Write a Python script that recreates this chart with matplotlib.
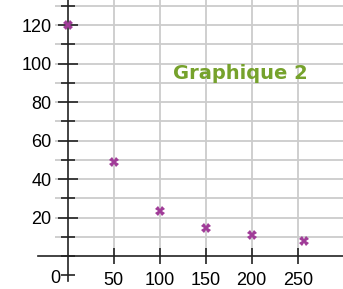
import matplotlib
matplotlib.use("Agg")
from matplotlib import pyplot as plt
from matplotlib.ticker import MultipleLocator

# values
x_vals = [0, 50, 100, 150, 200, 257]
y_vals = [120, 49, 23.5, 14.5, 11, 8]
x_ticks = [50, 100, 150, 200, 250]
y_ticks = [20, 40, 60, 80, 100, 120]
title = "Graphique 2"

purple = "#a03c98"
green = "#76a22c"
grid_col = "#cccccc"

plt.rcParams['font.family'] = ['Liberation Sans', 'DejaVu Sans']

fig = plt.figure(figsize=(3.43, 2.89), dpi=100)
ax = fig.add_axes([0, 0, 1, 1])
ax.set_xlim(-73.6, 299.2)
ax.set_ylim(-17.1, 133)
ax.patch.set_alpha(0)

# grid
for y in range(10, 140, 10):
    ax.hlines(y, -13.8, 299.2, color=grid_col, lw=1.3, zorder=0)
for x in x_ticks:
    ax.vlines(x, 0, 133, color=grid_col, lw=1.3, zorder=0)

for s in ['top', 'right']:
    ax.spines[s].set_visible(False)
ax.spines['left'].set_position(('data', 0))
ax.spines['bottom'].set_position(('data', 0))
ax.spines['bottom'].set_bounds(-32, 299.2)
ax.spines['left'].set_bounds(-13, 133)
for s in ['left', 'bottom']:
    ax.spines[s].set_linewidth(1.2)
    ax.spines[s].set_color('#222222')

ax.set_xticks(x_ticks)
ax.set_yticks(y_ticks)
ax.yaxis.set_minor_locator(MultipleLocator(10))
ax.tick_params(axis='x', direction='inout', length=11, width=1.2, labelsize=13,
               pad=6, color='#222222')
ax.tick_params(axis='y', which='major', direction='inout', length=14, width=1.2,
               labelsize=13, pad=4.5, color='#222222')
ax.tick_params(axis='y', which='minor', direction='inout', length=10, width=1.2,
               color='#222222')
ax.text(-7.5, -11.5, "0", ha='right', va='center', fontsize=13)

ax.plot(x_vals, y_vals, linestyle='none', marker='X', markersize=6.5,
        color=purple, markeredgewidth=0, zorder=5, clip_on=False)

ax.text(114, 92, title, color=green, fontsize=14, fontweight='bold',
        family='DejaVu Sans', ha='left', va='baseline')

fig.savefig("out.png", dpi=100)
